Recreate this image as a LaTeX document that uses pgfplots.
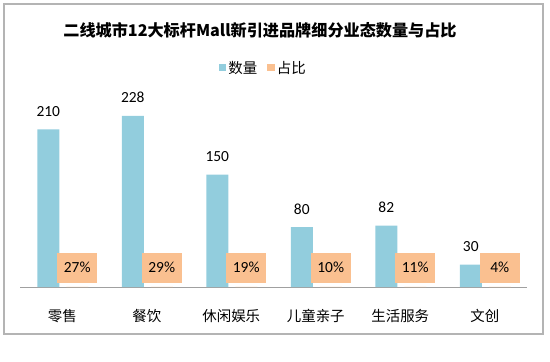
\documentclass[border=0pt]{standalone}
\usepackage{pgfplots}
\pgfplotsset{compat=1.18}
\usepackage{fontspec}
\setmainfont{Carlito}
\newfontfamily\cjk{Noto Sans CJK SC}
\definecolor{cblue}{RGB}{146,205,221}
\definecolor{corange}{RGB}{250,192,144}
\definecolor{frm}{RGB}{180,180,180}
\definecolor{axl}{RGB}{160,160,160}
\begin{document}
\begin{tikzpicture}[x=1bp,y=1bp]
\path[use as bounding box] (0,0) rectangle (550,361);
\draw[frm, line width=1.3bp] (4,27) rectangle (543,357);
\node[font=\cjk\bfseries\fontsize{16.2}{19}\selectfont] at (260,331) {二线城市12大标杆Mall新引进品牌细分业态数量与占比};
\begin{axis}[
  at={(20bp,74bp)}, anchor=south west, scale only axis,
  width=507bp, height=190bp,
  xmin=-0.5, xmax=5.5, ymin=0, ymax=253.33,
  axis x line*=bottom, axis y line=none,
  x axis line style={draw=axl, line width=0.8bp, -},
  xtick=data, xticklabels={零售,餐饮,休闲娱乐,儿童亲子,生活服务,文创},
  xtick style={draw=none},
  xticklabel style={font=\cjk\fontsize{14.5}{16}\selectfont, anchor=center, yshift=-25bp},
  ybar, bar width=22bp, clip=false,
  /pgf/number format/assume math mode=true,
  legend style={at={(0.48,1.153)}, anchor=center, draw=none, legend columns=2,
    font=\cjk\fontsize{14.5}{16}\selectfont,
    /tikz/every even column/.append style={column sep=8bp}},
]
\addplot[fill=cblue, draw=none, bar shift=-14bp,
  legend image code/.code={\fill[cblue] (0bp,-3.5bp) rectangle (7.5bp,4bp);},
  nodes near coords,
  every node near coord/.append style={font=\fontsize{15.5}{18}\selectfont, inner sep=0pt, anchor=base, yshift=13bp}]
  coordinates {(0,210) (1,228) (2,150) (3,80) (4,82) (5,30)};
\addplot[fill=corange, draw=none, bar shift=15bp, point meta=explicit,
  legend image code/.code={\fill[corange] (0bp,-3.5bp) rectangle (7.5bp,4bp);},
  nodes near coords={\pgfmathprintnumber{\pgfplotspointmeta}\%},
  every node near coord/.append style={fill=corange, minimum width=40bp, minimum height=30bp, inner sep=0pt, anchor=south, yshift=4bp, font=\fontsize{15.5}{18}\selectfont}]
  coordinates {(0,0.27) [27] (1,0.29) [29] (2,0.19) [19] (3,0.10) [10] (4,0.11) [11] (5,0.04) [4]};
\legend{数量,占比}
\end{axis}
\end{tikzpicture}
\end{document}
